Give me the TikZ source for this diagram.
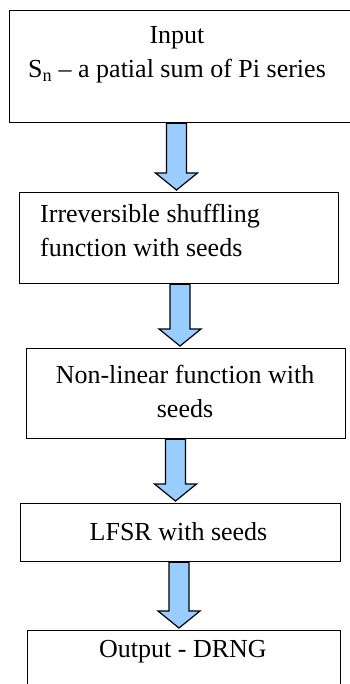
\documentclass[tikz,border=0pt]{standalone}
\usepackage{fontspec}
\setmainfont{Liberation Serif}
\usetikzlibrary{positioning, calc}
\definecolor{arrowblue}{HTML}{99CCFF}
\tikzstyle{stage} = [rectangle, draw=black, line width=1.2pt, inner sep=0pt, anchor=north west]
\tikzstyle{lbl} = [font=\fontsize{26}{34}\selectfont, inner sep=0pt]
\tikzstyle{blockarr} = [draw=black, line width=1.2pt, fill=arrowblue, line join=miter]
% block arrow: from node, to node, x of the shaft
\newcommand{\blockarrow}[3]{%
  \draw[blockarr] let \p1=(#3,0 |- #1.south), \p2=([yshift=2pt]#3,0 |- #2.north) in
    (\x1-10pt,\y1) -- (\x1-10pt,\y2+17pt) -- (\x1-21pt,\y2+17pt) -- (\x2,\y2)
    -- (\x1+21pt,\y2+17pt) -- (\x1+10pt,\y2+17pt) -- (\x1+10pt,\y1) -- cycle;}

\begin{document}
\begin{tikzpicture}[x=1pt, y=-1pt]
        \useasboundingbox (0,0) rectangle (350,684);
        \clip (0,0) rectangle (350,684);

        % Stages
        \node (input) [stage, minimum width=343pt, minimum height=112pt] at (9,10) {};
        \node (shuffle) [stage, minimum width=319pt, minimum height=91pt] at (19,192) {};
        \node (nonlin) [stage, minimum width=319pt, minimum height=90pt] at (26,348) {};
        \node (lfsr) [stage, minimum width=320pt, minimum height=58pt] at (20,503) {};
        \node (output) [stage, minimum width=313pt, minimum height=80pt] at (27,630) {};

        % Texts
        \node (inputtxt) [lbl, align=center] at (177,55) {Input\\ S\textsubscript{n} -- a patial sum of Pi series};
        \node (shuffletxt) [lbl, align=left, anchor=west] at (40,230) {Irreversible shuffling\\ function with seeds};
        \node (nonlintxt) [lbl, align=center] at (185,391) {Non-linear function with\\ seeds};
        \node (lfsrtxt) [lbl] at (178.5,532) {LFSR with seeds};
        \node (outputtxt) [lbl] at (183,652) {Output - DRNG};

        % Arrows
        \blockarrow{input}{shuffle}{176.5}
        \blockarrow{shuffle}{nonlin}{180}
        \blockarrow{nonlin}{lfsr}{175.5}
        \blockarrow{lfsr}{output}{179}

    \end{tikzpicture}
\end{document}
